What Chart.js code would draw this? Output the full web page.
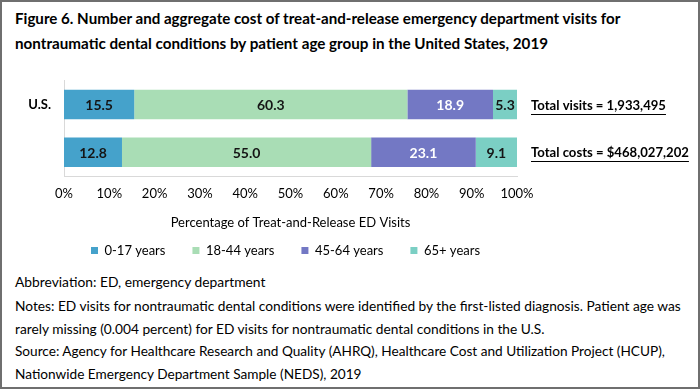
<!DOCTYPE html>
<html>
<head>
<meta charset="utf-8">
<script src="https://cdn.jsdelivr.net/npm/chart.js@4.4.0/dist/chart.umd.min.js"></script>
<style>
  html, body { margin: 0; padding: 0; background: #fff; }
  body { width: 700px; height: 389px; position: relative; overflow: hidden; }
  #frame { position: absolute; left: 0; top: 0; width: 700px; height: 389px; box-sizing: border-box; border: 2px solid #6f6f6f; }
  .line { position: absolute; left: 15px; white-space: nowrap; color: #000; }
  .title { font-weight: bold; }
  #wrap { position: absolute; left: 0; top: 60px; width: 700px; height: 211px; }
</style>
</head>
<body>
<div id="frame"></div>
<div class="line title" data-y="20" data-w="607">Figure 6. Number and aggregate cost of treat-and-release emergency department visits for</div>
<div class="line title" data-y="45" data-w="534">nontraumatic dental conditions by patient age group in the United States, 2019</div>
<div class="line" data-y="283" data-w="251">Abbreviation: ED, emergency department</div>
<div class="line" data-y="307" data-w="668">Notes: ED visits for nontraumatic dental conditions were identified by the first-listed diagnosis. Patient age was</div>
<div class="line" data-y="330" data-w="531">rarely missing (0.004 percent) for ED visits for nontraumatic dental conditions in the U.S.</div>
<div class="line" data-y="353" data-w="652">Source: Agency for Healthcare Research and Quality (AHRQ), Healthcare Cost and Utilization Project (HCUP),</div>
<div class="line" data-y="376" data-w="347">Nationwide Emergency Department Sample (NEDS), 2019</div>
<div id="wrap"><canvas id="c"></canvas></div>
<script>
const FONT = 'Lato, "Open Sans", sans-serif';

// data
const categories = ['U.S.', ''];
const ageGroups = ['0-17 years', '18-44 years', '45-64 years', '65+ years'];
const age0to17 = [15.5, 12.8];
const age18to44 = [60.3, 55.0];
const age45to64 = [18.9, 23.1];
const age65plus = [5.3, 9.1];
const totals = ['Total visits = 1,933,495', 'Total costs = $468,027,202'];
const xTicks = [0, 10, 20, 30, 40, 50, 60, 70, 80, 90, 100];

const colors = ['#45a2cb', '#a9ddb5', '#7378c4', '#7bcfc4'];
const labelColors = ['#151515', '#151515', '#fff', '#151515'];

// fit the html text lines to their widths
const mctx = document.createElement('canvas').getContext('2d');
document.querySelectorAll('.line').forEach(el => {
  const bold = el.classList.contains('title') ? 'bold ' : '';
  mctx.font = bold + '100px ' + FONT;
  const w = mctx.measureText(el.textContent).width;
  const size = 100 * (+el.dataset.w) / w;
  el.style.fontFamily = FONT;
  el.style.fontSize = size + 'px';
  el.style.lineHeight = size + 'px';
  el.style.top = (+el.dataset.y - size / 2 - 1) + 'px';
});

Chart.defaults.font.family = FONT;
Chart.defaults.color = '#000';

// values inside the bars + totals on the right
const barLabels = {
  id: 'barLabels',
  afterDatasetsDraw(chart) {
    const ctx = chart.ctx;
    ctx.save();
    ctx.font = 'bold 14px ' + FONT;
    ctx.textAlign = 'center';
    ctx.textBaseline = 'middle';
    chart.data.datasets.forEach((ds, i) => {
      chart.getDatasetMeta(i).data.forEach((bar, j) => {
        ctx.fillStyle = labelColors[i];
        ctx.fillText(ds.data[j].toFixed(1), (bar.x + bar.base) / 2, bar.y + 1);
      });
    });
    // totals, sized so the first one is about 135px wide
    ctx.font = 'bold 100px ' + FONT;
    const size = 100 * 135 / ctx.measureText(totals[0]).width;
    ctx.font = 'bold ' + size + 'px ' + FONT;
    const meta = chart.getDatasetMeta(0);
    ctx.textAlign = 'left';
    ctx.fillStyle = '#000';
    ctx.strokeStyle = '#000';
    ctx.lineWidth = 1;
    totals.forEach((t, j) => {
      const x = chart.chartArea.right + 14;
      const y = meta.data[j].y + 1;
      ctx.fillText(t, x, y);
      const w = ctx.measureText(t).width;
      ctx.beginPath();
      ctx.moveTo(x, Math.round(y + 8) + 0.5);
      ctx.lineTo(x + w, Math.round(y + 8) + 0.5);
      ctx.stroke();
    });
    ctx.restore();
  }
};

// fixed legend height, then put the legend where the original has it
const legendPlace = {
  id: 'legendPlace',
  beforeLayout(chart) {
    const lg = chart.legend;
    if (!lg._fixed) {
      const fit = lg.fit.bind(lg);
      lg.fit = function () { fit(); this.height = 33; };
      lg._fixed = true;
    }
  },
  afterLayout(chart) {
    const lg = chart.legend;
    lg.left = 64;
    lg.right = 700;
    lg.top = 191 - 27 - 7;
    lg.bottom = lg.top + 60;
  }
};

const series = [age0to17, age18to44, age45to64, age65plus];

new Chart(document.getElementById('c'), {
  type: 'bar',
  data: {
    labels: categories,
    datasets: series.map((d, i) => ({
      label: ageGroups[i],
      data: d,
      backgroundColor: colors[i],
      borderWidth: 0,
      categoryPercentage: 1,
      barPercentage: 0.62
    }))
  },
  options: {
    indexAxis: 'y',
    responsive: true,
    maintainAspectRatio: false,
    animation: false,
    layout: { padding: { top: 7, right: 183, left: 0, bottom: 0 } },
    scales: {
      x: {
        stacked: true,
        min: 0,
        max: 100,
        afterBuildTicks(scale) { scale.ticks = xTicks.map(v => ({ value: v })); },
        afterFit(scale) { scale.height = 62; },
        ticks: { callback: v => v + '%', font: { size: 13 }, padding: 10, maxRotation: 0 },
        grid: { display: false, drawTicks: false },
        border: { display: true, color: '#d9d9d9' },
        title: { display: true, text: 'Percentage of Treat-and-Release ED Visits', font: { size: 13 }, padding: { top: 4, bottom: 7 } }
      },
      y: {
        stacked: true,
        afterFit(scale) { scale.width = 64; },
        ticks: { font: { size: 13, weight: 'bold' }, padding: 13 },
        grid: { display: false, drawTicks: false },
        border: { display: true, color: '#d9d9d9' }
      }
    },
    plugins: {
      legend: {
        position: 'bottom',
        align: 'start',
        labels: { boxWidth: 7, boxHeight: 7, padding: 27, font: { size: 13 } }
      },
      tooltip: { enabled: false }
    }
  },
  plugins: [barLabels, legendPlace]
});
</script>
</body>
</html>
